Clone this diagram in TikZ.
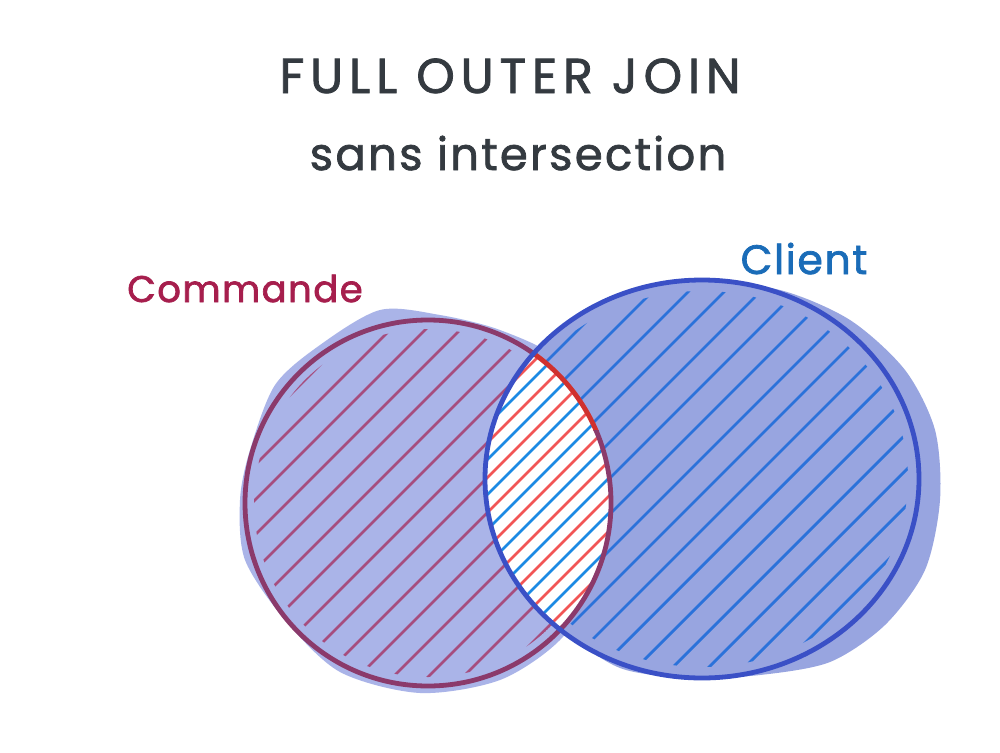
\documentclass[tikz,border=0pt]{standalone}
\usepackage{fontspec}
\setmainfont{Poppins}
\newfontfamily\handtitle{Poppins}[LetterSpace=12,FakeBold=1.6]
\newfontfamily\handsub{Poppins}[LetterSpace=5,FakeBold=1.6]
\newfontfamily\handlabel{Poppins}[LetterSpace=4,FakeBold=1.8]
\definecolor{blobL}{HTML}{AAB4E8}
\definecolor{blobR}{HTML}{98A5E0}
\definecolor{hatchL}{HTML}{A64D7E}
\definecolor{outL}{HTML}{8B3A6B}
\definecolor{redL}{HTML}{D0312D}
\definecolor{hatchRed}{HTML}{F25555}
\definecolor{hatchR}{HTML}{2B72DA}
\definecolor{hatchRlens}{HTML}{1C8AE4}
\definecolor{outR}{HTML}{3A50C6}
\definecolor{titlec}{HTML}{343A40}
\definecolor{cmd}{HTML}{A61E4D}
\definecolor{cli}{HTML}{1A6CB8}
\begin{document}
\begin{tikzpicture}[x=1pt,y=-1pt,
  hatchline/.style={line width=2.8pt,line cap=round},
  outline/.style={line width=4.8pt},
  label/.style={inner sep=0pt,anchor=base}]
\useasboundingbox (0,0) rectangle (1000,752);
\fill[white] (0,0) rectangle (1000,752);
% titles
\node[label,text=titlec,font=\handtitle\fontsize{49}{52}\selectfont] (title) at (510,93) {FULL OUTER JOIN};
\node[label,text=titlec,font=\handsub\fontsize{45}{50}\selectfont] (sub) at (518,170) {sans intersection};
\node[label,text=cmd,font=\handlabel\fontsize{37}{40}\selectfont] (cmd) at (245,302) {Commande};
\node[label,text=cli,font=\handlabel\fontsize{41}{44}\selectfont] (cli) at (804,274) {Client};
% left blob
\fill[blobL] plot[smooth cycle] coordinates {(250,450) (275,385) (320,345) (380,310) (440,315) (500,330) (560,360) (600,420) (612,500) (598,580) (560,640) (500,680) (420,693) (340,672) (285,620) (245,560) (240,500)};
% left hatches
\begin{scope}
  \clip (428,503) circle (174);
  \foreach \c in {300,335,...,1260} \draw[hatchline,hatchL] (\c,0) -- (\c-800,800);
\end{scope}
\draw[outline,outL] (428,503) circle (183);
% right blob
\fill[blobR] plot[smooth cycle] coordinates {(490,470) (510,390) (560,330) (630,292) (700,282) (780,290) (850,320) (905,370) (935,430) (940,500) (925,570) (885,625) (830,662) (760,675) (690,678) (620,668) (565,630) (515,570) (492,520)};
% right hatches
\begin{scope}
  \clip (702,479) ellipse (206 and 188);
  \foreach \c in {800,836,...,1700} \draw[hatchline,hatchR] (\c,0) -- (\c-800,800);
\end{scope}
% white lens with both hatchings
\begin{scope}
  \clip (428,503) circle (183);
  \clip (702,479) ellipse (217 and 199);
  \fill[white] (0,0) rectangle (1000,752);
  \foreach \c in {895,930,...,1300} \draw[hatchline,hatchRed] (\c,0) -- (\c-800,800);
  \foreach \c in {912,947,...,1300} \draw[hatchline,hatchRlens] (\c,0) -- (\c-800,800);
\end{scope}
% left outline within right circle
\begin{scope}
  \clip (702,479) ellipse (217 and 199);
  \clip (400,250) rectangle (700,430);
  \draw[outline,redL] (428,503) circle (183);
\end{scope}
\begin{scope}
  \clip (702,479) ellipse (217 and 199);
  \clip (400,430) rectangle (700,720);
  \draw[outline,outL] (428,503) circle (183);
\end{scope}
\draw[outline,outR] (702,479) ellipse (217 and 199);
\end{tikzpicture}
\end{document}
